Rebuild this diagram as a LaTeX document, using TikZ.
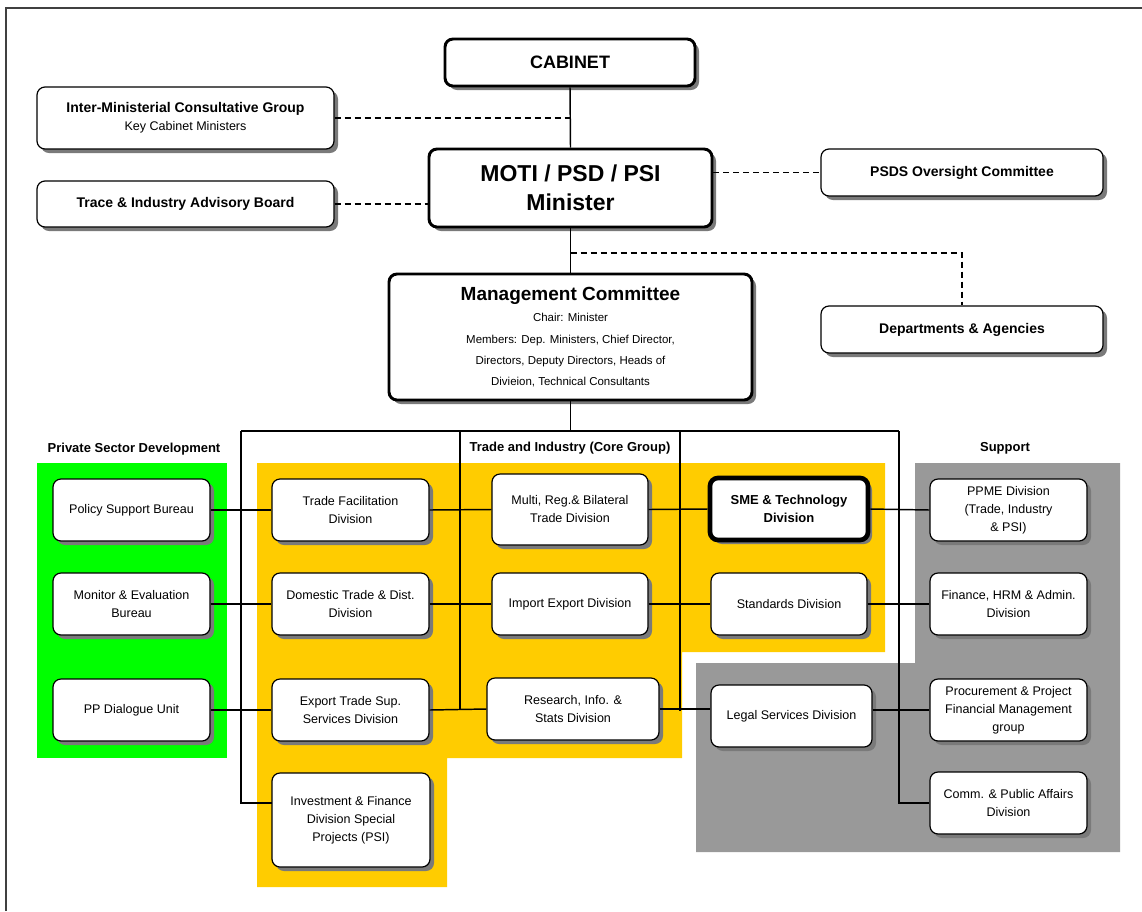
\documentclass[tikz,border=0pt]{standalone}
\usepackage{fontspec}
\setmainfont{Liberation Sans}
\usetikzlibrary{shadows}
\definecolor{pgreen}{HTML}{00FF00}
\definecolor{pyellow}{HTML}{FFCC00}
\definecolor{pgray}{HTML}{999999}
\definecolor{shade}{HTML}{7A7A7A}
\definecolor{frameline}{HTML}{404040}

% name, x1, y1, x2, y2, style, text  (pixel-like units, y downwards)
\newcommand\orgbox[7]{%
  \node[#6, minimum width={(#4-#2)*0.75pt}, minimum height={(#5-#3)*0.75pt}]
    (#1) at ({(#2+#4)/2},{(#3+#5)/2}) {#7};}

\begin{document}
\begin{tikzpicture}[x=0.75pt,y=-0.75pt,
  box/.style={draw=black, line width=0.9pt, fill=white, rounded corners=6pt,
    inner sep=0pt, align=center,
    drop shadow={shadow xshift=3pt, shadow yshift=-3pt, fill=shade, opacity=1},
    font=\fontsize{9.4}{13.5}\selectfont},
  thickbox/.style={box, line width=2.2pt},
  smebox/.style={box, line width=3.5pt, font=\fontsize{9.75}{13.5}\selectfont\bfseries},
  topbox/.style={box, font=\fontsize{10.5}{13.5}\selectfont\bfseries},
  header/.style={font=\fontsize{9.75}{12}\selectfont\bfseries, inner sep=0pt},
  link/.style={line width=1.1pt},
  dashlink/.style={line width=1.1pt, dash pattern=on 4.5pt off 3pt}]

\useasboundingbox (0,0) rectangle (1142,911);

% coloured group areas
\fill[pgreen] (37,463) rectangle (227,758);
\fill[pyellow] (257,463) -- (885,463) -- (885,652) -- (682,652) -- (682,758)
  -- (447,758) -- (447,887) -- (257,887) -- cycle;
\fill[pgray] (915,463) -- (1120,463) -- (1120,852) -- (696,852) -- (696,663)
  -- (915,663) -- cycle;

% page frame
\draw[frameline, line width=1.2pt] (6,911) -- (6,8) -- (1142,8);

% group titles
\node[header] (hpsd) at (134,449) {Private Sector Development};
\node[header] (hti)  at (570,448) {Trade and Industry (Core Group)};
\node[header] (hsup) at (1005,448) {Support};

% top of the hierarchy
\orgbox{cab}{445}{39}{695}{86}{thickbox, font=\fontsize{13.5}{16}\selectfont\bfseries}{CABINET}
\orgbox{moti}{429}{149}{712}{227}{thickbox, font=\fontsize{17.25}{21.75}\selectfont\bfseries}{MOTI / PSD / PSI\\Minister}
\orgbox{inter}{37}{87}{334}{149}{box}{{\fontsize{10.5}{13.5}\selectfont\bfseries Inter-Ministerial Consultative Group}\\Key Cabinet Ministers}
\orgbox{trace}{37}{181}{334}{227}{topbox}{Trace \& Industry Advisory Board}
\orgbox{psds}{821}{149}{1103}{196}{topbox}{PSDS Oversight Committee}
\orgbox{dept}{821}{306}{1103}{353}{topbox}{Departments \& Agencies}
\orgbox{mgmt}{389}{274}{752}{400}{thickbox, font=\fontsize{8.6}{16}\selectfont}{{\fontsize{14.25}{16}\selectfont\bfseries Management Committee}\\Chair: Minister\\Members: Dep. Ministers, Chief Director,\\Directors, Deputy Directors, Heads of\\Divieion, Technical Consultants}

% private sector development
\orgbox{psb}{53}{479}{210}{541}{box}{Policy Support Bureau}
\orgbox{mon}{53}{573}{210}{635}{box}{Monitor \& Evaluation\\Bureau}
\orgbox{ppd}{53}{679}{210}{741}{box}{PP Dialogue Unit}

% trade and industry
\orgbox{tf}{272}{479}{429}{541}{box}{Trade Facilitation\\Division}
\orgbox{dom}{272}{573}{429}{635}{box}{Domestic Trade \& Dist.\\Division}
\orgbox{exp}{272}{679}{429}{741}{box}{Export Trade Sup.\\Services Division}
\orgbox{inv}{272}{773}{430}{867}{box}{Investment \& Finance\\Division Special\\Projects (PSI)}
\orgbox{multi}{492}{474}{648}{545}{box}{Multi, Reg.\& Bilateral\\Trade Division}
\orgbox{imp}{492}{573}{648}{635}{box}{Import Export Division}
\orgbox{res}{487}{678}{659}{740}{box}{Research, Info. \&\\Stats Division}
\orgbox{sme}{710}{478}{868}{540}{smebox}{SME \& Technology\\Division}
\orgbox{std}{711}{573}{867}{635}{box}{Standards Division}

% support
\orgbox{legal}{711}{685}{872}{747}{box}{Legal Services Division}
\orgbox{ppme}{930}{479}{1087}{541}{box}{PPME Division\\(Trade, Industry\\\& PSI)}
\orgbox{fin}{930}{573}{1087}{635}{box}{Finance, HRM \& Admin.\\Division}
\orgbox{proc}{930}{679}{1087}{741}{box}{Procurement \& Project\\Financial Management\\group}
\orgbox{comm}{930}{772}{1087}{834}{box}{Comm. \& Public Affairs\\Division}

% reporting lines at the top
\draw[link] (cab.south) -- (moti.north);
\draw[link] (moti.south) -- (mgmt.north);
\draw[dashlink] (inter.east) -- (inter.east -| cab.south);
\draw[dashlink] (trace.east) -- (trace.east -| moti.west);
\draw[dashlink] (moti.east |- psds.west) -- (psds.west);
\coordinate (dj) at (570.5,253);
\draw[dashlink] (dj) -| (dept.north);

% distribution bus below the management committee
\coordinate (busL) at (241,431);
\coordinate (busR) at (899,431);
\coordinate (c1t) at (460,431);
\coordinate (c1b) at (460,710);
\coordinate (c2t) at (680,431);
\coordinate (c2b) at (680,711);
\coordinate (invin) at (272,803);
\draw[link] (mgmt.south) -- (mgmt.south |- busL);
\draw[link] (busL) -- (busR);
\draw[link] (busL) |- (invin);
\draw[link] (c1t) -- (c1b);
\draw[link] (c2t) -- (c2b);
\draw[link] (busR) |- (comm.west);

% rows
\draw[link] (psb.east) -- (tf.west);
\draw[link] (tf.east) -- (multi.west);
\draw[link] (multi.east) -- (sme.west);
\draw[link] (sme.east) -- (ppme.west);

\draw[link] (mon.east) -- (dom.west);
\draw[link] (dom.east) -- (imp.west);
\draw[link] (imp.east) -- (std.west);
\draw[link] (std.east) -- (fin.west);

\draw[link] (ppd.east) -- (exp.west);
\draw[link] (exp.east) -- (res.west);
\draw[link] (res.east) -- (res.east -| legal.west);
\draw[link] (legal.east |- proc.west) -- (proc.west);
\end{tikzpicture}
\end{document}
